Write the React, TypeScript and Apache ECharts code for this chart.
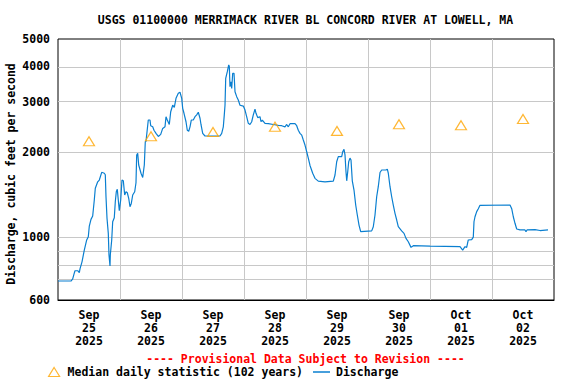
import React, { useEffect, useRef } from 'react';
import * as echarts from 'echarts';

const TITLE = 'USGS 01100000 MERRIMACK RIVER BL CONCORD RIVER AT LOWELL, MA';
const Y_NAME = 'Discharge, cubic feet per second';
const PROVISIONAL = '---- Provisional Data Subject to Revision ----';
const MEDIAN_NAME = 'Median daily statistic (102 years)';
const DISCHARGE_NAME = 'Discharge';

const dayMonths = ['Sep', 'Sep', 'Sep', 'Sep', 'Sep', 'Sep', 'Oct', 'Oct'];
const dayNumbers = ['25', '26', '27', '28', '29', '30', '01', '02'];
const dayYears = ['2025', '2025', '2025', '2025', '2025', '2025', '2025', '2025'];

const yLabelTicks = [600, 1000, 2000, 3000, 4000, 5000];
const yGridTicks = [700, 800, 900, 1000, 2000, 3000, 4000];
const Y_MIN = 600;
const Y_MAX = 5000;
const HOURS_TOTAL = 192;

const medianValues = [2180, 2270, 2350, 2450, 2370, 2500, 2480, 2610];

// hours since Sep 25 00:00
const dischargeHours = [
  0, 5.03, 5.69, 6.19, 6.58, 7.63, 8.25, 8.52, 9.29, 10.18, 11.11, 11.73, 12.12, 12.77, 13.43, 14.05,
  14.44, 15.37, 15.99, 16.92, 17.92, 18.31, 18.58, 18.97, 19.47, 19.74, 20.13, 20.25, 20.79, 21.17,
  21.79, 22.18, 22.57, 22.95, 23.34, 23.73, 24.27, 24.77, 25.28, 25.82, 26.32, 26.83, 27.37, 27.87,
  28.37, 28.92, 29.69, 30.19, 30.46, 30.85, 31.24, 32.13, 32.79, 33.41, 33.79, 34.06, 34.95, 35.61,
  35.89, 36.66, 37.16, 37.94, 38.83, 39.76, 40.53, 41.42, 41.81, 42.31, 43.08, 43.63, 44.4, 45.02,
  45.68, 46.57, 47.23, 47.89, 48.27, 48.77, 49.55, 50.05, 50.6, 51.1, 51.6, 52.37, 53.03, 53.69,
  54.31, 54.97, 55.35, 56.01, 56.9, 62.71, 63.37, 63.99, 64.37, 64.65, 64.92, 65.54, 66.08, 66.31,
  66.58, 66.97, 67.24, 67.63, 68.13, 68.52, 69.17, 69.79, 70.45, 71.73, 72.39, 73.03, 73.67, 74.32,
  74.98, 75.6, 76.26, 76.65, 77.31, 78.19, 78.58, 79.09, 80.13, 81.41, 83.34, 85.28, 86.59, 87.87,
  88.53, 89.15, 89.81, 91.74, 92.4, 93.02, 93.68, 94.34, 94.96, 95.61, 96.27, 96.89, 97.55, 98.59,
  99.48, 100.76, 103.35, 106.57, 107.23, 107.88, 108.5, 109.82, 110.21, 110.71, 111.1, 111.48,
  111.76, 112.15, 112.53, 113.03, 113.42, 113.92, 114.58, 115.24, 115.86, 116.52, 117.17, 121.43,
  122.05, 122.71, 123.36, 123.98, 124.65, 125.3, 126.97, 127.47, 127.86, 128.52, 129.17, 129.79,
  130.45, 131.11, 131.72, 133.03, 133.94, 134.71, 135.6, 136.65, 137.54, 144.0, 149.81, 155.61,
  156.65, 157.55, 158.2, 158.82, 160.14, 160.76, 161.03, 161.42, 162.08, 162.7, 163.35, 174.97,
  175.63, 176.25, 176.9, 177.56, 178.84, 180.77, 181.16, 181.55, 184.65, 186.58, 189.68,
];

const dischargeValues = [
  700, 700, 712, 740, 761, 761, 749, 773, 818, 900, 977, 1003, 1094, 1155, 1187, 1352,
  1487, 1567, 1590, 1693, 1680, 1660, 1388, 1166, 1031, 865, 791, 865, 977, 1133,
  1170, 1333, 1446, 1475, 1352, 1240, 1352, 1590, 1580, 1408, 1446, 1434, 1371, 1280,
  1315, 1408, 1446, 1555, 1949, 1977, 1797, 1680, 1624, 1797, 2171, 2176, 2589, 2589,
  2472, 2450, 2382, 2323, 2265, 2305, 2418, 2450, 2660, 2589, 2497, 2770, 2920, 2870,
  3088, 3217, 3245, 3088, 2847, 2735, 2553, 2382, 2364, 2450, 2589, 2589, 2660, 2700,
  2757, 2627, 2497, 2323, 2274, 2274, 2323, 2450, 2700, 2920, 3633, 3835, 4049, 4006,
  3394, 3533, 3346, 3784, 3784, 3259, 3130, 3047, 2920, 2900, 2808, 2660, 2521, 2497,
  2553, 2700, 2830, 2735, 2640, 2660, 2553, 2589, 2521, 2513, 2497, 2480, 2472, 2450,
  2497, 2450, 2513, 2513, 2472, 2382, 2323, 2290, 2201, 2113, 2001, 1900, 1790, 1680,
  1612, 1576, 1567, 1576, 1656, 1845, 1922, 1922, 2001, 2040, 1949, 1700,
  1580, 1700, 1845, 1900, 1871, 1580, 1466, 1298, 1197, 1103, 1045, 1052,
  1088, 1197, 1388, 1506, 1690, 1725, 1725, 1736, 1680, 1506, 1388, 1298,
  1213, 1149, 1088, 1052, 1031, 990, 963, 920, 933, 930, 928, 925,
  900, 925, 920, 977, 980, 1000, 1133, 1180, 1230, 1260, 1295, 1298,
  1260, 1180, 1119, 1068, 1060, 1060, 1045, 1060, 1062, 1055, 1060,
];

const FONT = '"DejaVu Sans Mono", "Liberation Mono", monospace';
const FS = 11.5;

export default function App() {
  const ref = useRef<HTMLDivElement>(null);

  useEffect(() => {
    if (!ref.current) return;
    const chart = echarts.init(ref.current, undefined, { renderer: 'svg' });

    const lg = (v: number) => Math.log10(v);
    const categories = dayMonths.map((m, i) => `${m}\n${dayNumbers[i]}\n${dayYears[i]}`);
    const yMinL = lg(Y_MIN);
    const yMaxL = lg(Y_MAX);

    const markData = yGridTicks.map((v) => ({
      yAxis: lg(v),
      lineStyle: { color: '#c8c8c8', width: 1, type: 'solid' },
      label: { show: false },
    }));

    const dischargeData = dischargeHours.map((h, i) => [h, lg(dischargeValues[i])]);
    const medianData = medianValues.map((v, i) => [i * 24 + 12, lg(v)]);

    const textBase = { fontFamily: FONT, fontWeight: 'bold', fontSize: FS, color: '#000' };
    const lineColor = '#0a7fd0';

    chart.setOption({
      animation: false,
      backgroundColor: '#fff',
      grid: {
        left: 58,
        top: 39,
        width: 496,
        height: 261,
        show: true,
        borderColor: '#000',
        borderWidth: 1,
        outerBoundsMode: 'none',
      },
      xAxis: [
        {
          type: 'category',
          data: categories,
          boundaryGap: true,
          axisLine: { show: true, lineStyle: { color: '#000', width: 1 } },
          axisTick: { show: false },
          axisLabel: {
            interval: 0,
            margin: 8,
            lineHeight: 13,
            ...textBase,
          },
          splitLine: {
            show: true,
            interval: 0,
            showMinLine: false,
            showMaxLine: false,
            lineStyle: { color: '#c8c8c8', width: 1 },
          },
        },
        {
          type: 'value',
          min: 0,
          max: HOURS_TOTAL,
          show: false,
        },
      ],
      yAxis: {
        type: 'value',
        min: yMinL,
        max: yMaxL,
        show: true,
        axisLine: { show: false },
        axisTick: { show: false },
        splitLine: { show: false },
        axisLabel: {
          show: true,
          customValues: yLabelTicks.map(lg),
          showMinLabel: true,
          showMaxLabel: true,
          margin: 8,
          formatter: (v: number) => String(Math.round(Math.pow(10, v))),
          ...textBase,
        },
      },
      legend: [
        {
          left: 48,
          top: 366,
          padding: 0,
          itemWidth: 11,
          itemHeight: 9,
          selectedMode: false,
          data: [
            {
              name: MEDIAN_NAME,
              icon: 'triangle',
              itemStyle: { color: 'rgba(0,0,0,0)', borderColor: '#ffa500', borderWidth: 1.2 },
            },
          ],
          textStyle: { ...textBase, padding: [0, 0, 0, 3] },
        },
        {
          left: 313,
          top: 366,
          padding: 0,
          itemWidth: 17,
          itemHeight: 1.5,
          selectedMode: false,
          data: [
            {
              name: DISCHARGE_NAME,
              icon: 'rect',
              itemStyle: { color: lineColor, borderWidth: 0 },
            },
          ],
          textStyle: { ...textBase, padding: [0, 0, 0, 1] },
        },
      ],
      graphic: [
        {
          type: 'text',
          x: 305.5,
          y: 20,
          style: {
            text: TITLE,
            fontFamily: FONT,
            fontWeight: 'bold',
            fontSize: FS,
            fill: '#000',
            align: 'center',
            verticalAlign: 'middle',
          },
        },
        {
          type: 'text',
          x: 305.5,
          y: 359,
          style: {
            text: PROVISIONAL,
            fontFamily: FONT,
            fontWeight: 'bold',
            fontSize: FS,
            fill: '#ff0000',
            align: 'center',
            verticalAlign: 'middle',
          },
        },
        {
          type: 'text',
          x: 11,
          y: 174,
          rotation: Math.PI / 2,
          style: {
            text: Y_NAME,
            fontFamily: FONT,
            fontWeight: 'bold',
            fontSize: FS,
            fill: '#000',
            align: 'center',
            verticalAlign: 'middle',
          },
        },
      ],
      series: [
        {
          name: DISCHARGE_NAME,
          type: 'line',
          xAxisIndex: 1,
          yAxisIndex: 0,
          data: dischargeData,
          showSymbol: false,
          symbol: 'none',
          z: 3,
          lineStyle: { color: lineColor, width: 1.2 },
          itemStyle: { color: lineColor },
          markLine: {
            silent: true,
            z: 1,
            symbol: ['none', 'none'],
            animation: false,
            label: { show: false },
            emphasis: { disabled: true },
            data: markData,
          },
        },
        {
          name: MEDIAN_NAME,
          type: 'scatter',
          xAxisIndex: 1,
          yAxisIndex: 0,
          data: medianData,
          symbol: 'triangle',
          symbolSize: [11, 9],
          z: 4,
          itemStyle: { color: 'rgba(0,0,0,0)', borderColor: '#ffa500', borderWidth: 1.2 },
        },
      ],
    });

    return () => chart.dispose();
  }, []);

  return (
    <div
      ref={ref}
      style={{ position: 'fixed', left: 0, top: 0, width: 576, height: 384 }}
    />
  );
}
